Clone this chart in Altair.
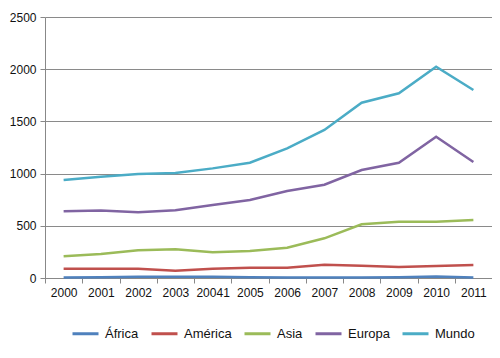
import altair as alt
import pandas as pd

years = ["2000", "2001", "2002", "2003", "20041", "2005", "2006", "2007", "2008", "2009", "2010", "2011"]
series = ["África", "América", "Asia", "Europa", "Mundo"]
africa = [5, 7, 12, 12, 12, 8, 5, 5, 5, 8, 15, 5]
america = [89, 89, 88, 70, 88, 99, 98, 127, 117, 105, 115, 124]
asia = [208, 230, 265, 275, 246, 259, 290, 380, 514, 539, 539, 556]
europa = [639, 646, 629, 648, 700, 747, 833, 894, 1034, 1104, 1353, 1111]
mundo = [939, 970, 995, 1005, 1050, 1104, 1242, 1418, 1679, 1769, 2024, 1801]
colors = ["#4F81BD", "#C0504D", "#9BBB59", "#8064A2", "#4BACC6"]

rows = []
for name, vals in zip(series, [africa, america, asia, europa, mundo]):
    for y, v in zip(years, vals):
        rows.append({"year": y, "serie": name, "value": v})
df = pd.DataFrame(rows)

font = "Liberation Sans"

chart = alt.Chart(df).mark_line(strokeWidth=2.5).encode(
    x=alt.X("year:O", sort=years, bandPosition=0.5,
            scale=alt.Scale(type="band", paddingInner=0, paddingOuter=0),
            axis=alt.Axis(title=None, labelAngle=0, tickBand="extent", grid=False,
                          tickSize=5, labelPadding=4, domainColor="#888888",
                          tickColor="#888888", labelFontSize=12, labelFont=font,
                          labelColor="#111111")),
    y=alt.Y("value:Q", scale=alt.Scale(domain=[0, 2500], nice=False),
            axis=alt.Axis(title=None, values=[0, 500, 1000, 1500, 2000, 2500],
                          format="d",
                          tickSize=5, labelPadding=4, domainColor="#888888",
                          tickColor="#888888", gridColor="#8a8a8a",
                          labelFontSize=12, labelFont=font, labelColor="#111111")),
    color=alt.Color("serie:N", sort=series,
                    scale=alt.Scale(domain=series, range=colors),
                    legend=alt.Legend(title=None, orient="none", direction="horizontal",
                                      legendX=26, legendY=302,
                                      symbolType="stroke", symbolSize=676,
                                      symbolStrokeWidth=3, labelOffset=5,
                                      columnPadding=6, labelFontSize=13,
                                      labelFont=font, labelColor="#111111")),
).properties(
    width=447, height=261,
    autosize=alt.AutoSizeParams(type="none"),
    padding={"left": 37, "top": 9, "right": 0, "bottom": 72},
).configure_view(stroke=None)

chart.save("out.html", embed_options={"renderer": "svg", "actions": False})
